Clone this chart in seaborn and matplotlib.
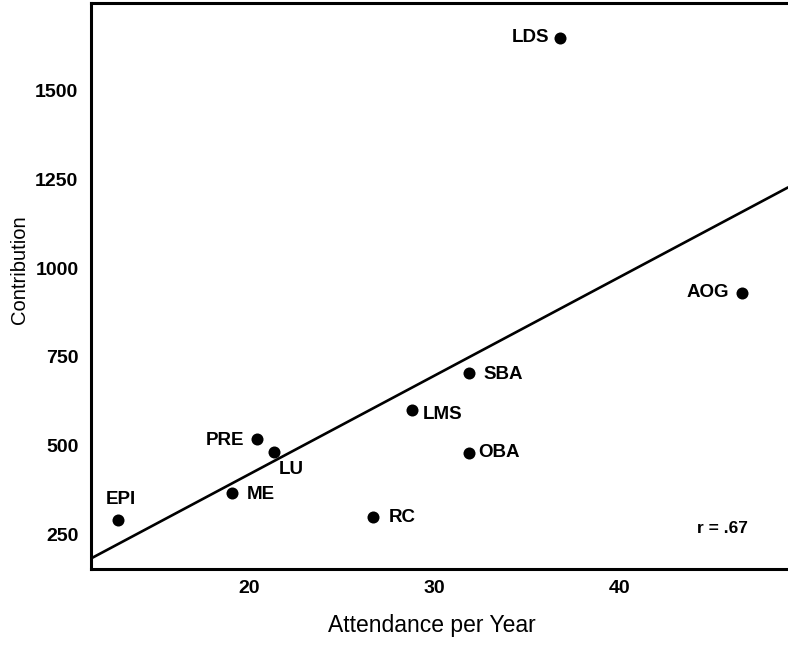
import matplotlib
matplotlib.use("Agg")
import matplotlib.pyplot as plt
import seaborn as sns
import pandas as pd

# ---- data ----
denominations = ["LDS", "AOG", "SBA", "LMS", "OBA", "RC", "PRE", "LU", "ME", "EPI"]
attendance = [36.8, 46.6, 31.9, 28.8, 31.9, 26.7, 20.4, 21.35, 19.1, 12.9]
contribution = [1649, 930, 703, 600, 479, 297, 517, 480, 366, 289]
x_ticks = [20, 30, 40]
y_ticks = [250, 500, 750, 1000, 1250, 1500]
r_text = "r = .67"

df = pd.DataFrame({"Attendance": attendance, "Contribution": contribution,
                   "Denomination": denominations})

# ---- label placement (offsets in points, alignment) ----
label_style = {
    "LDS": ((-8, 0), "right", "center"),
    "AOG": ((-9, 0), "right", "center"),
    "SBA": ((10, -1), "left", "center"),
    "LMS": ((8, -3), "left", "center"),
    "OBA": ((6, 0), "left", "center"),
    "RC": ((11, 0), "left", "center"),
    "PRE": ((-9, -1), "right", "center"),
    "LU": ((3, -12), "left", "center"),
    "ME": ((10, -1), "left", "center"),
    "EPI": ((2, 15), "center", "center"),
}

sns.set_style("white")
plt.rcParams["font.family"] = ["Liberation Sans", "DejaVu Sans"]

fig = plt.figure(figsize=(7.88, 6.51), dpi=100)
ax = fig.add_axes([91 / 788, 1 - 568.5 / 651, 1 - 91 / 788, (568.5 - 3) / 651])

xlim = (11.46, 49.1)
ylim = (153, 1747)
ax.set_xlim(*xlim)
ax.set_ylim(*ylim)

sns.regplot(data=df, x="Attendance", y="Contribution", ax=ax, ci=None,
            truncate=False, color="black",
            scatter_kws={"s": 75, "linewidths": 0, "alpha": 1},
            line_kws={"lw": 1.9, "color": "black"})

ax.set_xlim(*xlim)
ax.set_ylim(*ylim)

for name, xv, yv in zip(denominations, attendance, contribution):
    off, ha, va = label_style[name]
    ax.annotate(name, (xv, yv), xytext=off, textcoords="offset points",
                ha=ha, va=va, fontsize=13.5, fontweight="bold", color="black")

ax.text(44.2, 267, r_text, fontsize=12.5, fontweight="bold", ha="left",
        va="center", color="black")

ax.set_xticks(x_ticks)
ax.set_yticks(y_ticks)
ax.set_xticklabels([str(t) for t in x_ticks], fontsize=14, fontweight="bold")
ax.set_yticklabels([str(t) for t in y_ticks], fontsize=14, fontweight="bold")
ax.tick_params(direction="in", length=7, width=1.8, colors="black",
               pad=8)
ax.tick_params(axis="y", pad=9)

for side in ["left", "bottom", "top"]:
    ax.spines[side].set_linewidth(2.2)
    ax.spines[side].set_color("black")
ax.spines["right"].set_visible(False)

ax.set_xlabel("Attendance per Year", fontsize=16.5, color="black")
ax.set_ylabel("Contribution", fontsize=14.5, color="black")
ax.xaxis.set_label_coords((431.5 - 91) / 697, -(614 - 568.5) / 565.5)
ax.yaxis.set_label_coords((29 - 91) / 697, 1 - (270 - 3) / 565.5)

fig.savefig("out.png", dpi=100)
